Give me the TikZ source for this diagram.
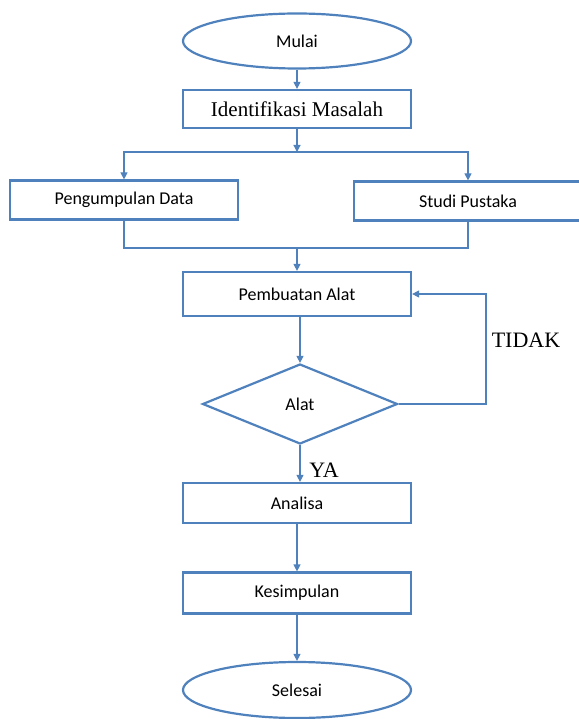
\documentclass[tikz,border=0pt]{standalone}
\usepackage{fontspec}
\setmainfont{Carlito}
\newfontfamily\timesfont{Liberation Serif}
\usetikzlibrary{shapes.geometric,arrows.meta}
\definecolor{alurbiru}{RGB}{79,129,189}

\begin{document}
\begin{tikzpicture}[x=1pt, y=-1pt,
    kotak/.style={draw=alurbiru, line width=2.2pt, minimum width=228pt, font=\fontsize{18}{21}\selectfont},
    oval/.style={ellipse, draw=alurbiru, line width=2.2pt, minimum width=228pt, minimum height=55pt, font=\fontsize{18}{21}\selectfont},
    garis/.style={draw=alurbiru, line width=1.2pt},
    panah/.style={garis, -{Triangle[width=7pt,length=7pt]}},
    ket/.style={font=\timesfont\fontsize{22}{25}\selectfont}]
    \useasboundingbox (0,0) rectangle (578,719);

    % mulai dan identifikasi
    \node[oval] (mulai) at (297,41) {Mulai};
    \node[kotak, minimum height=38pt, font=\timesfont\fontsize{21}{24}\selectfont] (identifikasi) at (297,109) {Identifikasi Masalah};
    \draw[panah] (mulai) -- (identifikasi);

    % cabang ke dua kegiatan
    \coordinate (cabang) at (297,152);
    \node[kotak, minimum height=39pt] (pengumpulan) at (124,200) {Pengumpulan Data};
    \node[kotak, minimum height=39pt] (studi) at (468,201) {Studi Pustaka};
    \draw[panah] (identifikasi) -- (cabang);
    \draw[panah] (cabang) -| (pengumpulan);
    \draw[panah] (cabang) -| (studi);

    % gabung lagi
    \coordinate (gabung) at (297,248);
    \node[kotak, minimum height=44pt] (pembuatan) at (297,294) {Pembuatan Alat};
    \draw[garis] (pengumpulan.south) |- (studi.south |- gabung) -- (studi.south);
    \draw[panah] (gabung) -- (pembuatan);

    % keputusan
    \node[diamond, draw=alurbiru, line width=2.2pt, aspect=2.44, minimum width=195pt, minimum height=80pt, inner sep=0pt, font=\fontsize{18}{21}\selectfont] (alat) at (300,404) {Alat};
    \draw[panah] (alat.north |- pembuatan.south) -- (alat.north);
    \coordinate (balik) at (486,294);
    \draw[panah] (alat.east) -| (balik) -- (pembuatan.east);
    \node[ket] (tidak) at (526,340) {TIDAK};

    % hasil
    \node[kotak, minimum height=40pt] (analisa) at (297,503) {Analisa};
    \draw[panah] (alat.south) -- (alat.south |- analisa.north);
    \node[ket] (ya) at (324,470) {YA};
    \node[kotak, minimum height=41pt] (kesimpulan) at (297,593) {Kesimpulan};
    \draw[panah] (analisa) -- (kesimpulan);
    \node[oval, minimum height=56pt] (selesai) at (297,690) {Selesai};
    \draw[panah] (kesimpulan) -- (selesai);
\end{tikzpicture}
\end{document}
